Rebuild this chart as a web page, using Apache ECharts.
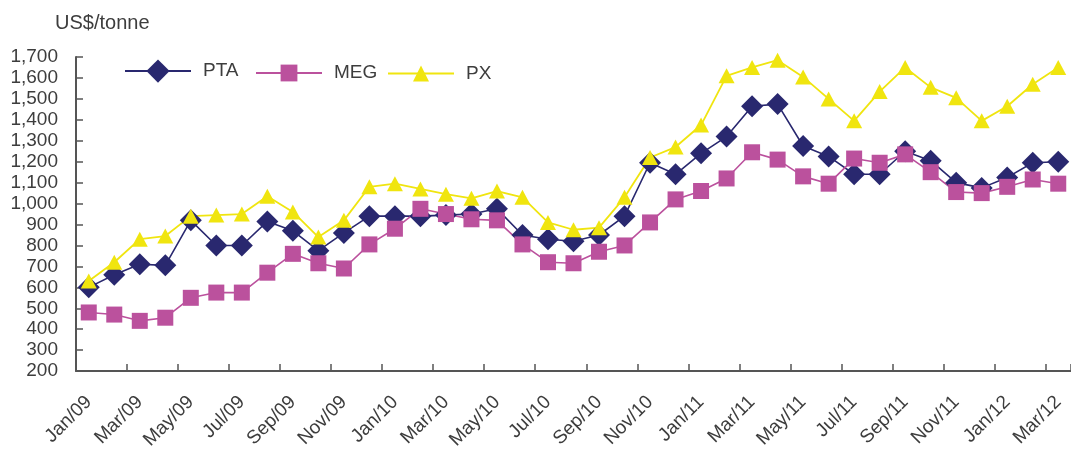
<!DOCTYPE html>
<html>
<head>
<meta charset="utf-8">
<script src="https://cdn.jsdelivr.net/npm/echarts@6/dist/echarts.min.js"></script>
<style>
html,body{margin:0;padding:0;background:#fff;}
#c{width:1071px;height:452px;}
</style>
</head>
<body>
<div id="c"></div>
<script>
const categories = ['Jan/09','Feb/09','Mar/09','Apr/09','May/09','Jun/09','Jul/09','Aug/09','Sep/09','Oct/09','Nov/09','Dec/09',
  'Jan/10','Feb/10','Mar/10','Apr/10','May/10','Jun/10','Jul/10','Aug/10','Sep/10','Oct/10','Nov/10','Dec/10',
  'Jan/11','Feb/11','Mar/11','Apr/11','May/11','Jun/11','Jul/11','Aug/11','Sep/11','Oct/11','Nov/11','Dec/11',
  'Jan/12','Feb/12','Mar/12'];
const pta = [600,660,710,705,920,800,800,915,870,775,860,940,940,940,945,950,975,850,830,820,850,940,1195,1140,
  1240,1320,1465,1475,1275,1225,1140,1140,1250,1205,1100,1075,1125,1195,1200];
const meg = [480,470,440,455,550,575,575,670,760,715,690,805,880,975,950,925,920,805,720,715,770,800,910,1020,
  1060,1120,1245,1210,1130,1095,1215,1195,1235,1150,1055,1050,1080,1115,1095];
const px = [630,720,830,845,940,945,950,1035,960,840,920,1080,1095,1070,1045,1025,1060,1030,910,875,885,1030,1220,1270,
  1375,1610,1650,1685,1605,1500,1395,1535,1650,1555,1505,1395,1465,1570,1650];
const yMin = 200, yMax = 1700, yStep = 100;
const unitLabel = 'US$/tonne';

const textColor = '#3d3d3d';
const font = 'Liberation Sans, Arial, Helvetica, sans-serif';
const chart = echarts.init(document.getElementById('c'), null, {renderer: 'canvas'});

function legendFor(name, left, h) {
  return {
    show: true, data: [name], left: left, top: 74 - h / 2, padding: 0,
    itemWidth: 66, itemHeight: h, itemGap: 0,
    textStyle: {fontSize: 19, color: textColor, fontFamily: font, padding: [0, 0, 0, 7]}
  };
}

chart.setOption({
  animation: false,
  backgroundColor: '#ffffff',
  title: {
    text: unitLabel, left: 50, top: 8,
    textStyle: {fontSize: 20, fontWeight: 'normal', color: textColor, fontFamily: font}
  },
  legend: [legendFor('PTA', 124, 29), legendFor('MEG', 255, 21), legendFor('PX', 387, 20)],
  grid: {left: 76, top: 57, width: 1000, height: 317, containLabel: false},
  xAxis: {
    type: 'category', data: categories, boundaryGap: true,
    axisLine: {show: true, lineStyle: {color: '#555', width: 2}},
    axisTick: {show: true, inside: true, length: 7, interval: 1, lineStyle: {color: '#555', width: 1.5}},
    axisLabel: {interval: 1, rotate: 45, margin: 28, fontSize: 19, color: textColor, fontFamily: font},
    splitLine: {show: false}
  },
  yAxis: {
    type: 'value', min: yMin, max: yMax, interval: yStep,
    axisLine: {show: true, lineStyle: {color: '#555', width: 2}},
    axisTick: {show: true, inside: true, length: 7, lineStyle: {color: '#555', width: 1.5}},
    axisLabel: {margin: 18, fontSize: 19, color: textColor, fontFamily: font,
      formatter: v => v.toLocaleString('en-US')},
    splitLine: {show: false}
  },
  series: [
    {name: 'PTA', type: 'line', data: pta, symbol: 'diamond', symbolSize: 22, showAllSymbol: true,
      lineStyle: {color: '#29286F', width: 1.6}, itemStyle: {color: '#29286F'}},
    {name: 'MEG', type: 'line', data: meg, symbol: 'rect', symbolSize: 16, showAllSymbol: true,
      lineStyle: {color: '#BB519D', width: 1.6}, itemStyle: {color: '#BB519D'}},
    {name: 'PX', type: 'line', data: px, symbol: 'triangle', symbolSize: [16, 15], showAllSymbol: true,
      lineStyle: {color: '#F0E50F', width: 1.8}, itemStyle: {color: '#F0E50F'}}
  ]
});
</script>
</body>
</html>
